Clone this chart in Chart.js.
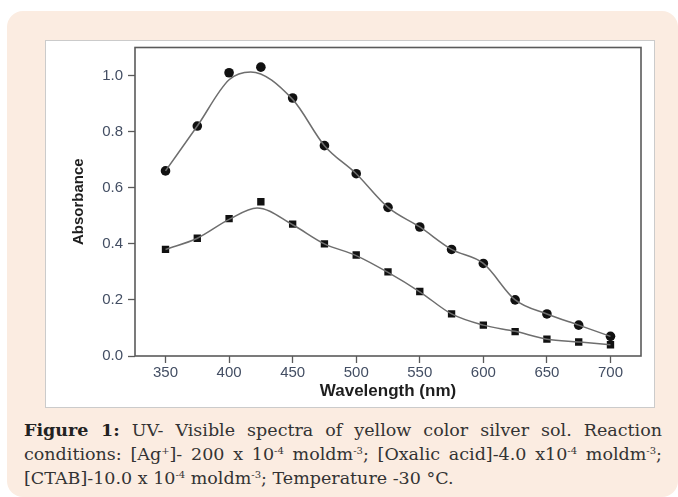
<!DOCTYPE html>
<html>
<head>
<meta charset="utf-8">
<title>UV-Visible spectra</title>
<script src="https://cdn.jsdelivr.net/npm/chart.js@4.4.0/dist/chart.umd.min.js"></script>
<style>
  body {
    margin: 0;
    width: 678px;
    height: 497px;
    position: relative;
    overflow: hidden;
    background: #fff;
  }
  .card {
    position: absolute;
    left: 7px;
    top: 11px;
    width: 671px;
    height: 486px;
    background: #fbece1;
    border-radius: 16px;
  }
  .panel {
    position: absolute;
    left: 45px;
    top: 40px;
    width: 610px;
    height: 368px;
    box-sizing: border-box;
    background: #fff;
    border: 1px solid #cbcbcb;
  }
  .chart-box {
    position: absolute;
    left: 45px;
    top: 40px;
    width: 610px;
    height: 368px;
  }
  .caption {
    position: absolute;
    left: 24px;
    top: 418px;
    width: 638px;
    font-family: "DejaVu Serif", serif;
    font-size: 17.5px;
    line-height: 24px;
    color: #333;
  }
  .caption .row { white-space: nowrap; }
  .caption .just { text-align: justify; text-align-last: justify; white-space: normal; }
  .caption b { color: #222; }
  .caption sup { font-size: 10px; vertical-align: 6px; line-height: 0; }
</style>
</head>
<body>
<div class="card"></div>
<div class="panel"></div>
<div class="chart-box"><canvas id="spectra"></canvas></div>
<div class="caption">
  <div class="row just"><b>Figure 1:</b> UV- Visible spectra of yellow color silver sol. Reaction</div>
  <div class="row just">conditions: [Ag<sup>+</sup>]- 200 x 10<sup>-4</sup> moldm<sup>-3</sup>; [Oxalic acid]-4.0 x10<sup>-4</sup> moldm<sup>-3</sup>;</div>
  <div class="row">[CTAB]-10.0 x 10<sup>-4</sup> moldm<sup>-3</sup>; Temperature -30 °C.</div>
</div>

<script>
// measured points (nm / absorbance)
const wavelengths = [350, 375, 400, 425, 450, 475, 500, 525, 550, 575, 600, 625, 650, 675, 700];
const absCircle = [0.66, 0.82, 1.01, 1.03, 0.92, 0.75, 0.65, 0.53, 0.46, 0.38, 0.33, 0.20, 0.15, 0.11, 0.07];
const absSquare = [0.38, 0.42, 0.49, 0.55, 0.47, 0.40, 0.36, 0.30, 0.23, 0.15, 0.11, 0.087, 0.06, 0.05, 0.04];

// smooth fitted curves
const fitCircleX = [350, 375, 400, 417, 450, 475, 500, 525, 550, 575, 600, 625, 650, 675, 700];
const fitCircle = [0.66, 0.82, 0.985, 1.013, 0.915, 0.75, 0.65, 0.53, 0.46, 0.38, 0.33, 0.20, 0.15, 0.11, 0.07];
const fitSquareX = [350, 375, 400, 422, 450, 475, 500, 525, 550, 575, 600, 625, 650, 675, 700];
const fitSquare = [0.38, 0.42, 0.487, 0.528, 0.468, 0.40, 0.358, 0.298, 0.229, 0.15, 0.11, 0.088, 0.06, 0.05, 0.04];

// axis ticks
const xTicks = [350, 400, 450, 500, 550, 600, 650, 700];
const yTicks = [0.0, 0.2, 0.4, 0.6, 0.8, 1.0];

const toXY = (xs, ys) => xs.map((x, i) => ({ x: x, y: ys[i] }));

const tickColor = "#434e63";
const lineColor = "#6e6e6e";
const frameColor = "#5a5a5a";

// box around the plot (top + right sides come from here)
const framePlugin = {
  id: "frame",
  beforeDatasetsDraw(chart) {
    const { ctx, chartArea } = chart;
    ctx.save();
    ctx.strokeStyle = frameColor;
    ctx.lineWidth = 1.6;
    ctx.strokeRect(chartArea.left, chartArea.top, chartArea.right - chartArea.left, chartArea.bottom - chartArea.top);
    ctx.restore();
  },
};

new Chart(document.getElementById("spectra"), {
  type: "line",
  data: {
    datasets: [
      {
        label: "fit circle",
        data: toXY(fitCircleX, fitCircle),
        borderColor: lineColor,
        borderWidth: 1.5,
        pointRadius: 0,
        cubicInterpolationMode: "monotone",
      },
      {
        label: "fit square",
        data: toXY(fitSquareX, fitSquare),
        borderColor: lineColor,
        borderWidth: 1.5,
        pointRadius: 0,
        cubicInterpolationMode: "monotone",
      },
      {
        label: "circle",
        data: toXY(wavelengths, absCircle),
        showLine: false,
        pointStyle: "circle",
        pointRadius: 4.8,
        pointBackgroundColor: "#111",
        pointBorderColor: "#111",
        pointBorderWidth: 0,
      },
      {
        label: "square",
        data: toXY(wavelengths, absSquare),
        showLine: false,
        pointStyle: "rect",
        pointRadius: 5.2,
        pointBackgroundColor: "#111",
        pointBorderColor: "#111",
        pointBorderWidth: 0,
      },
    ],
  },
  options: {
    responsive: true,
    maintainAspectRatio: false,
    animation: false,
    layout: { padding: { top: 7.5, right: 14, bottom: 0, left: 0 } },
    plugins: {
      legend: { display: false },
      tooltip: { enabled: false },
    },
    scales: {
      x: {
        type: "linear",
        min: 326,
        max: 724,
        afterBuildTicks: (scale) => {
          scale.ticks = xTicks.map((v) => ({ value: v }));
        },
        afterFit: (scale) => {
          scale.height = 52;
          scale.paddingLeft = 0;
          scale.paddingRight = 0;
        },
        grid: {
          drawOnChartArea: false,
          drawTicks: true,
          tickLength: 7,
          tickColor: frameColor,
          tickWidth: 1.3,
        },
        border: { display: false },
        ticks: {
          padding: 1,
          color: tickColor,
          font: { family: "Liberation Sans", size: 15 },
          callback: (v) => String(v),
        },
        title: {
          display: true,
          text: "Wavelength (nm)",
          color: "#1e1e1e",
          font: { family: "Liberation Sans", size: 17, weight: "bold" },
          padding: { top: 0, bottom: 6 },
        },
      },
      y: {
        type: "linear",
        min: 0,
        max: 1.1,
        afterBuildTicks: (scale) => {
          scale.ticks = yTicks.map((v) => ({ value: v }));
        },
        afterFit: (scale) => {
          scale.width = 90;
          scale.paddingTop = 0;
          scale.paddingBottom = 0;
        },
        grid: {
          drawOnChartArea: false,
          drawTicks: true,
          tickLength: 7,
          tickColor: frameColor,
          tickWidth: 1.3,
        },
        border: { display: false },
        ticks: {
          padding: 5,
          color: tickColor,
          font: { family: "Liberation Sans", size: 15 },
          callback: (v) => Number(v).toFixed(1),
        },
        title: {
          display: true,
          text: "Absorbance",
          color: "#1e1e1e",
          font: { family: "Liberation Sans", size: 15, weight: "bold" },
          padding: { top: 25, bottom: 0 },
        },
      },
    },
  },
  plugins: [framePlugin],
});
</script>
</body>
</html>
